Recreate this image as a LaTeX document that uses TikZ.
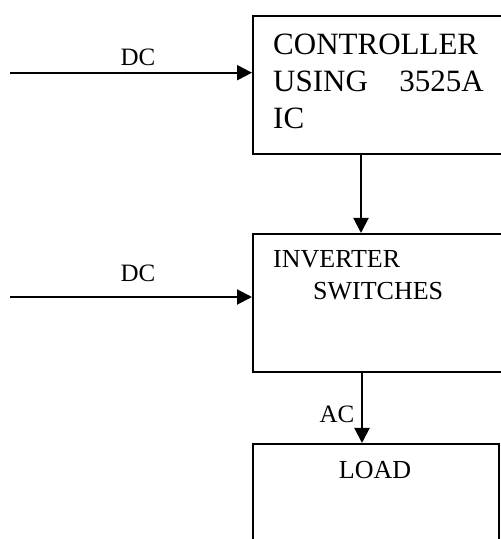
\documentclass[tikz,border=0pt]{standalone}
\usepackage{fontspec}
\setmainfont{Liberation Serif}
\usetikzlibrary{arrows.meta}
\tikzset{
  blockbox/.style={draw, line width=2pt, inner sep=0pt, anchor=north west},
  conn/.style={line width=2pt, -{Triangle[length=15pt,width=15pt]}},
  bigtxt/.style={inner sep=0pt, font=\fontsize{31}{37}\selectfont},
  midtxt/.style={inner sep=0pt, font=\fontsize{26}{32}\selectfont},
  lbltxt/.style={inner sep=0pt, font=\fontsize{25}{29}\selectfont},
}
\begin{document}
\begin{tikzpicture}[x=1pt,y=1pt]
\useasboundingbox (0,0) rectangle (501,539);
\clip (0,0) rectangle (501,539);
% blocks
\node[blockbox, minimum width=273pt, minimum height=138pt] (ctrl) at (252,524) {};
\node[blockbox, minimum width=273pt, minimum height=138pt] (inv) at (252,306) {};
\node[blockbox, minimum width=246pt, minimum height=132pt] (load) at (252,96) {};
% block texts
\node[bigtxt, anchor=base west] (t1) at (273,484) {CONTROLLER};
\node[bigtxt, anchor=base west] (t2) at (273,447) {USING};
\node[bigtxt, anchor=base east] (t3) at (484,447) {3525A};
\node[bigtxt, anchor=base west] (t4) at (273,410) {IC};
\node[midtxt, anchor=base west] (t5) at (273,271) {INVERTER};
\node[midtxt, anchor=base west] (t6) at (313,239) {SWITCHES};
\node[midtxt, anchor=base] (t7) at (375,60) {LOAD};
% inputs
\coordinate (dc1) at (10,466.3);
\coordinate (dc2) at (10,242);
\draw[conn] (dc1) -- (dc1 -| ctrl.west);
\draw[conn] (dc2) -- (dc2 -| inv.west);
\node[lbltxt, anchor=base] (l1) at (138,473) {DC};
\node[lbltxt, anchor=base] (l2) at (138,257) {DC};
% vertical connectors
\draw[conn] ([xshift=109pt]ctrl.south west) -- ([xshift=109pt]inv.north west);
\draw[conn] ([xshift=110pt]inv.south west) -- ([xshift=110pt]load.north west);
\node[lbltxt, anchor=base] (l3) at (337,116) {AC};
\end{tikzpicture}
\end{document}
